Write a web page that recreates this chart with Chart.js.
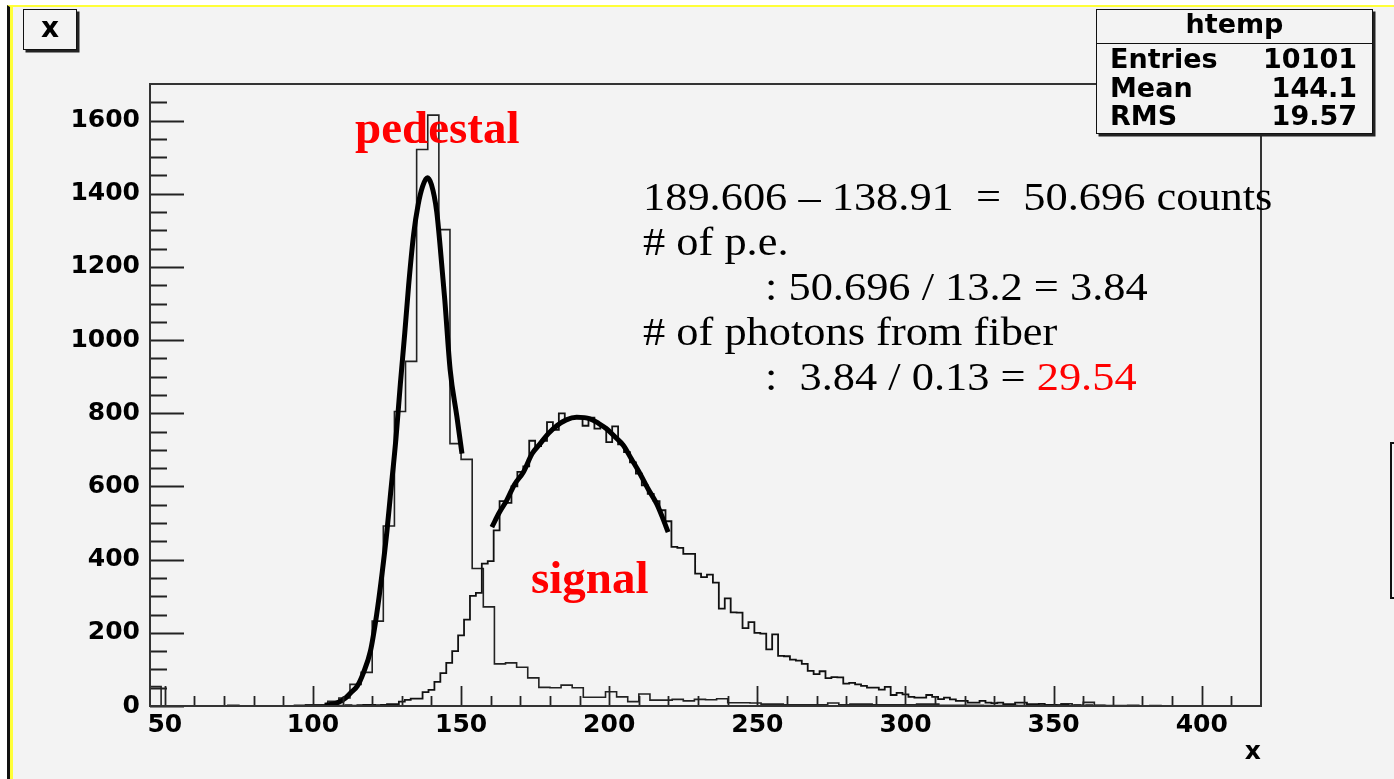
<!DOCTYPE html>
<html>
<head>
<meta charset="utf-8">
<script src="https://cdn.jsdelivr.net/npm/chart.js@4.4.1/dist/chart.umd.min.js"></script>
<style>
  html, body { margin: 0; padding: 0; background: #fff; overflow: hidden; }
  body { width: 1394px; height: 779px; position: relative; }
  #pad {
    position: absolute; left: 7px; top: 5px; width: 1387px; height: 774px;
    background: #f3f3f3; border-left: 3px solid #111; border-top: 2.5px solid #ffff38;
    box-shadow: inset 3px 0 0 #ffff38; box-sizing: border-box;
  }
  #wrap { position: absolute; left: 0; top: 0; width: 1394px; height: 779px; }
  .rbox {
    position: absolute; background: #f3f3f3; border: 1.5px solid #111;
    box-shadow: 2.5px 2.5px 0 #222; box-sizing: border-box;
    font-family: "DejaVu Sans", sans-serif; font-weight: bold; color: #000;
  }
  #titlebox { left: 23px; top: 9px; width: 54px; height: 41px; font-size: 28px; line-height: 36px; text-align: center; }
  #stats { left: 1096px; top: 9px; width: 277px; height: 125px; font-size: 27px; }
  #stats .head { position: absolute; left: 0; right: 0; top: 0; height: 33px; border-bottom: 1.5px solid #111; text-align: center; line-height: 27px; padding-top: 0; }
  #stats .row { position: absolute; left: 13px; right: 15px; height: 27px; line-height: 27px; display: flex; justify-content: space-between; }
  #edgebox { position: absolute; left: 1390px; top: 442px; width: 30px; height: 157px; border: 2px solid #111; box-sizing: border-box; }
  .red { color: #ff0000; }
  .big {
    position: absolute; font-family: "Liberation Serif", serif; font-weight: bold;
    font-size: 47px; line-height: 47px; color: #ff0000; white-space: pre;
  }
  .txt {
    position: absolute; font-family: "Liberation Serif", serif; font-size: 40px; line-height: 40px;
    color: #000; white-space: pre; transform-origin: left center; transform: scaleX(1.11);
  }
</style>
</head>
<body>
<div id="pad"></div>
<div id="wrap"><canvas id="myChart"></canvas></div>
<div id="edgebox"></div>
<div class="rbox" id="titlebox">x</div>
<div class="rbox" id="stats">
  <div class="head">htemp</div>
  <div class="row" style="top:35px"><span>Entries</span><span>10101</span></div>
  <div class="row" style="top:64px"><span>Mean</span><span>144.1</span></div>
  <div class="row" style="top:92px"><span>RMS</span><span>19.57</span></div>
</div>
<div class="big" style="left:355px; top:104px;">pedestal</div>
<div class="big" style="left:531px; top:554px;">signal</div>
<div class="txt" style="left:643px; top:177px;">189.606 – 138.91  =  50.696 counts</div>
<div class="txt" style="left:643px; top:222px;"># of p.e.</div>
<div class="txt" style="left:765px; top:267px;">: 50.696 / 13.2 = 3.84</div>
<div class="txt" style="left:643px; top:312px;"># of photons from fiber</div>
<div class="txt" style="left:765px; top:357px;">:  3.84 / 0.13 = <span class="red">29.54</span></div>
<script>
// x axis / y axis ticks
const xTickLabels = [50, 100, 150, 200, 250, 300, 350, 400];
const yTickLabels = [0, 200, 400, 600, 800, 1000, 1200, 1400, 1600];

// pedestal histogram: 100 bins of 3.75 starting at 45
const pedestalLow = 45;
const pedestalWidth = 3.75;
const pedestalCounts = [
  53, 0, 0, 0, 0, 0, 0, 2, 0, 0,
  0, 0, 0, 2, 3, 3, 13, 22, 59, 92,
  232, 492, 805, 942, 1521, 1615, 1302, 717, 674, 376,
  271, 115, 118, 106, 77, 51, 50, 57, 50, 24,
  24, 39, 25, 12, 33, 16, 16, 18, 14, 18,
  17, 20, 9, 9, 8, 5, 5, 3, 3, 3,
  3, 8, 3, 5, 5, 3, 3, 3, 3, 5,
  5, 2, 2, 2, 2, 1, 1, 2, 1, 1,
  2, 2, 6, 2, 10, 2, 1, 1, 2, 0,
  1, 0, 0, 0, 0, 0, 0, 0, 0, 0
];

// signal histogram: bins of 2 starting at 101
const signalLow = 101;
const signalWidth = 2;
const signalCounts = [
  0, 1, 0, 1, 1, 2, 1, 2, 3, 3,
  2, 3, 5, 5, 12, 17, 20, 20, 38, 44,
  66, 90, 118, 150, 193, 236, 301, 309, 389, 396,
  480, 560, 555, 600, 640, 655, 725, 710, 725, 776,
  755, 800, 785, 790, 790, 766, 788, 758, 762, 721,
  764, 715, 694, 666, 635, 603, 580, 560, 535, 505,
  435, 432, 416, 416, 362, 352, 359, 337, 266, 294,
  256, 255, 213, 229, 200, 198, 155, 196, 137, 136,
  127, 124, 115, 96, 87, 95, 76, 79, 78, 61,
  63, 59, 55, 50, 50, 45, 52, 30, 36, 32,
  25, 23, 23, 30, 25, 19, 23, 18, 14, 14,
  9, 9, 14, 9, 8, 9, 5, 5, 9, 9,
  5, 5, 6, 3, 3, 2, 3, 1, 2, 1,
  2, 1, 1
];

// fitted gaussians
const pedestalFitX = [104, 108, 111, 113, 115, 117, 119.4, 121.5, 123.3, 125, 126.1, 128, 129.5, 131, 132.3, 134, 135.5, 137, 138.6, 140, 141.8, 143, 144.5, 146.3, 148.6, 150.3];
const pedestalFitY = [2, 8, 22, 38, 55, 90, 150, 250, 360, 480, 572, 730, 880, 1020, 1150, 1290, 1370, 1420, 1444, 1425, 1350, 1250, 1110, 920, 790, 690];
const signalFitX = [160.4, 163, 165.4, 168, 171, 174, 176.7, 179.5, 182.3, 185.5, 189, 193.5, 196.5, 199.2, 202, 204.8, 207.5, 210.4, 213, 216, 218, 219.9];
const signalFitY = [489, 530, 562, 605, 639, 690, 717, 745, 766, 782, 789, 785, 772, 757, 735, 712, 675, 635, 595, 553, 515, 475];

function histPoints(low, width, counts) {
  const pts = counts.map((c, i) => ({ x: low + i * width, y: c }));
  pts.push({ x: low + counts.length * width, y: 0 });
  return pts;
}

function zipXY(xs, ys) {
  return xs.map((x, i) => ({ x, y: ys[i] }));
}

// ROOT style frame with ticks pointing inwards
const rootFrame = {
  id: 'rootFrame',
  afterDatasetsDraw(chart) {
    const { ctx, chartArea: a, scales: { x, y } } = chart;
    ctx.save();
    ctx.strokeStyle = '#222';
    ctx.lineWidth = 1.8;
    ctx.beginPath();
    for (let v = 50; v <= 410; v += 10) {
      const px = Math.round(x.getPixelForValue(v)) + 0.5;
      const len = v % 50 === 0 ? 20 : 10;
      ctx.moveTo(px, a.bottom);
      ctx.lineTo(px, a.bottom - len);
    }
    for (let v = 0; v <= 1650; v += 50) {
      const py = Math.round(y.getPixelForValue(v)) + 0.5;
      const len = v % 200 === 0 ? 34 : 17;
      ctx.moveTo(a.left, py);
      ctx.lineTo(a.left + len, py);
    }
    ctx.stroke();
    ctx.lineWidth = 2;
    ctx.strokeStyle = '#333';
    ctx.strokeRect(a.left, a.top, a.right - a.left, a.bottom - a.top);
    ctx.restore();
  }
};

const tickFont = { family: 'DejaVu Sans', weight: 'bold', size: 25 };

const chart = new Chart(document.getElementById('myChart'), {
  type: 'line',
  data: {
    datasets: [
      {
        label: 'pedestal',
        data: histPoints(pedestalLow, pedestalWidth, pedestalCounts),
        stepped: 'before',
        borderColor: '#222',
        borderWidth: 1.6,
        pointRadius: 0,
        order: 3,
      },
      {
        label: 'signal',
        data: histPoints(signalLow, signalWidth, signalCounts),
        stepped: 'before',
        borderColor: '#111',
        borderWidth: 1.8,
        pointRadius: 0,
        order: 2,
      },
      {
        label: 'pedestal fit',
        data: zipXY(pedestalFitX, pedestalFitY),
        borderColor: '#000',
        borderWidth: 5,
        pointRadius: 0,
        cubicInterpolationMode: 'monotone',
        order: 1,
      },
      {
        label: 'signal fit',
        data: zipXY(signalFitX, signalFitY),
        borderColor: '#000',
        borderWidth: 5,
        pointRadius: 0,
        cubicInterpolationMode: 'monotone',
        order: 0,
      },
    ],
  },
  options: {
    responsive: true,
    maintainAspectRatio: false,
    animation: false,
    events: [],
    layout: { padding: { left: 0, top: 84, right: 133, bottom: 0 } },
    plugins: { legend: { display: false }, tooltip: { enabled: false } },
    scales: {
      x: {
        type: 'linear',
        min: 45,
        max: 420,
        grid: { display: false, drawTicks: false },
        border: { display: false },
        ticks: { font: tickFont, color: '#000', padding: 4, maxRotation: 0, callback: (v) => String(v) },
        afterBuildTicks: (s) => { s.ticks = xTickLabels.map((v) => ({ value: v })); },
        afterFit: (s) => { s.height = 73; },
        title: { display: true, text: 'x', align: 'end', color: '#000', font: tickFont, padding: { top: 0, bottom: 12 } },
      },
      y: {
        type: 'linear',
        min: 0,
        max: 1700,
        grid: { display: false, drawTicks: false },
        border: { display: false },
        ticks: { font: tickFont, color: '#000', padding: 10, callback: (v) => String(v) },
        afterBuildTicks: (s) => { s.ticks = yTickLabels.map((v) => ({ value: v })); },
        afterFit: (s) => { s.width = 150; },
      },
    },
  },
  plugins: [rootFrame],
});
</script>
</body>
</html>
